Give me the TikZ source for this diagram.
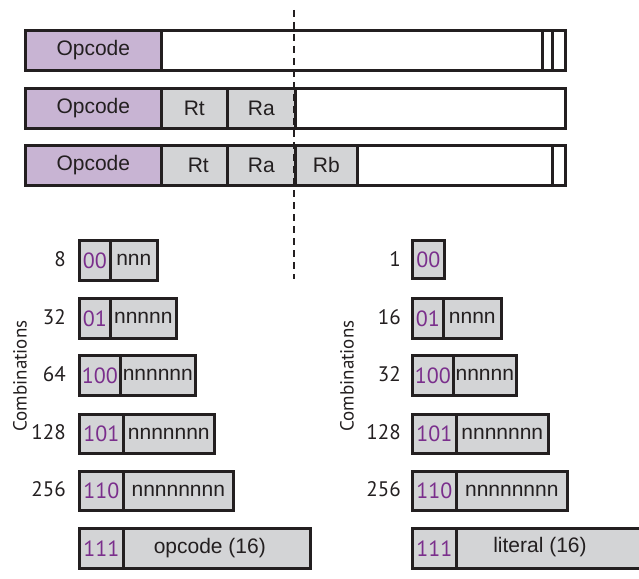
\documentclass[tikz,border=0pt]{standalone}
\usepackage{fontspec}
\setmainfont{Liberation Sans}
\newfontfamily\myr{PT Sans}
\definecolor{opfill}{HTML}{C8B4D3}
\definecolor{gfill}{HTML}{D3D4D6}
\definecolor{ptxt}{HTML}{7A2E8C}
\definecolor{ink}{HTML}{231F20}
\tikzset{
  fld/.style={draw=ink, line width=2.6pt, anchor=north west, inner sep=0pt, font=\fontsize{21}{23}\selectfont, text=ink},
  opf/.style={fld, fill=opfill},
  gf/.style={fld, fill=gfill},
  wf/.style={fld, fill=white},
  num/.style={anchor=east, inner sep=0pt, font=\myr\fontsize{21}{23}\selectfont, text=ink},
  comb/.style={rotate=90, inner sep=0pt, font=\myr\fontsize{19}{21}\selectfont, text=ink},
  divider/.style={draw=ink, line width=2pt, dash pattern=on 7pt off 5pt}
}
\newcommand{\fld}[7]{\node[#6, minimum width=#4pt-#2pt, minimum height=#5pt-#3pt] (#1) at (#2,#3) {#7};}
\newcommand{\cd}[1]{{\myr\fontsize{22}{24}\selectfont\color{ptxt}#1}}
\begin{document}
\begin{tikzpicture}[x=1pt,y=-1pt]
\useasboundingbox (0,0) rectangle (639,578);
% top rows
\fld{a1}{24}{29}{160}{69}{opf}{Opcode}
\fld{a2}{160}{29}{541}{69}{wf}{}
\fld{a3}{541}{29}{551}{69}{wf}{}
\fld{a4}{551}{29}{564}{69}{wf}{}
\fld{b1}{24}{87}{160}{127}{opf}{Opcode}
\fld{b2}{160}{87}{226}{127}{gf}{Rt}
\fld{b3}{226}{87}{294}{127}{gf}{Ra}
\fld{b4}{294}{87}{564}{127}{wf}{}
\fld{c1}{24}{144}{160}{184}{opf}{Opcode}
\fld{c2}{160}{144}{226}{184}{gf}{\hspace*{8pt}Rt}
\fld{c3}{226}{144}{294}{184}{gf}{Ra}
\fld{c4}{294}{144}{356}{184}{gf}{Rb}
\fld{c5}{356}{144}{551}{184}{wf}{}
\fld{c6}{551}{144}{564}{184}{wf}{}
\coordinate (dtop) at (294,10);
\coordinate (dbot) at (294,279);
\draw[divider] (dtop) -- (dbot);
% left column
\fld{l1a}{78}{239}{109}{279}{gf}{\cd{00}}
\fld{l1b}{109}{239}{156}{279}{gf}{nnn}
\fld{l2a}{78}{297}{109}{337}{gf}{\cd{01}}
\fld{l2b}{109}{297}{175}{337}{gf}{nnnnn}
\fld{l3a}{78}{354}{119}{394}{gf}{\cd{100}}
\fld{l3b}{119}{354}{194}{394}{gf}{nnnnnn}
\fld{l4a}{78}{413}{122}{452}{gf}{\cd{101}}
\fld{l4b}{122}{413}{213}{452}{gf}{nnnnnnn}
\fld{l5a}{78}{470}{122}{509}{gf}{\cd{110}}
\fld{l5b}{122}{470}{232}{509}{gf}{nnnnnnnn}
\fld{l6a}{78}{527}{122}{567}{gf}{\cd{111}}
\fld{l6b}{122}{527}{309}{567}{gf}{\hspace*{-14pt}opcode (16)}
\node[num] (n1) at (66,259) {8};
\node[num] (n2) at (66,317) {32};
\node[num] (n3) at (66,374) {64};
\node[num] (n4) at (66,432) {128};
\node[num] (n5) at (66,489) {256};
\node[comb] (cl) at (20,376) {Combinations};
% right column
\fld{r1a}{411}{239}{443}{277}{gf}{\cd{00}}
\fld{r2a}{411}{297}{442}{337}{gf}{\cd{01}}
\fld{r2b}{442}{297}{500}{337}{gf}{nnnn}
\fld{r3a}{411}{354}{452}{394}{gf}{\cd{100}}
\fld{r3b}{452}{354}{515}{394}{gf}{nnnnn}
\fld{r4a}{411}{413}{455}{452}{gf}{\cd{101}}
\fld{r4b}{455}{413}{547}{452}{gf}{nnnnnnn}
\fld{r5a}{411}{470}{455}{509}{gf}{\cd{110}}
\fld{r5b}{455}{470}{566}{509}{gf}{nnnnnnnn}
\fld{r6a}{411}{527}{455}{567}{gf}{\cd{111}}
\fld{r6b}{455}{527}{660}{567}{gf}{}
\node[font=\fontsize{21}{23}\selectfont, text=ink] (lit) at (540,547) {literal (16)};
\node[num] (m1) at (401,259) {1};
\node[num] (m2) at (401,317) {16};
\node[num] (m3) at (401,374) {32};
\node[num] (m4) at (401,432) {128};
\node[num] (m5) at (401,489) {256};
\node[comb] (cr) at (347,376) {Combinations};
\end{tikzpicture}
\end{document}
